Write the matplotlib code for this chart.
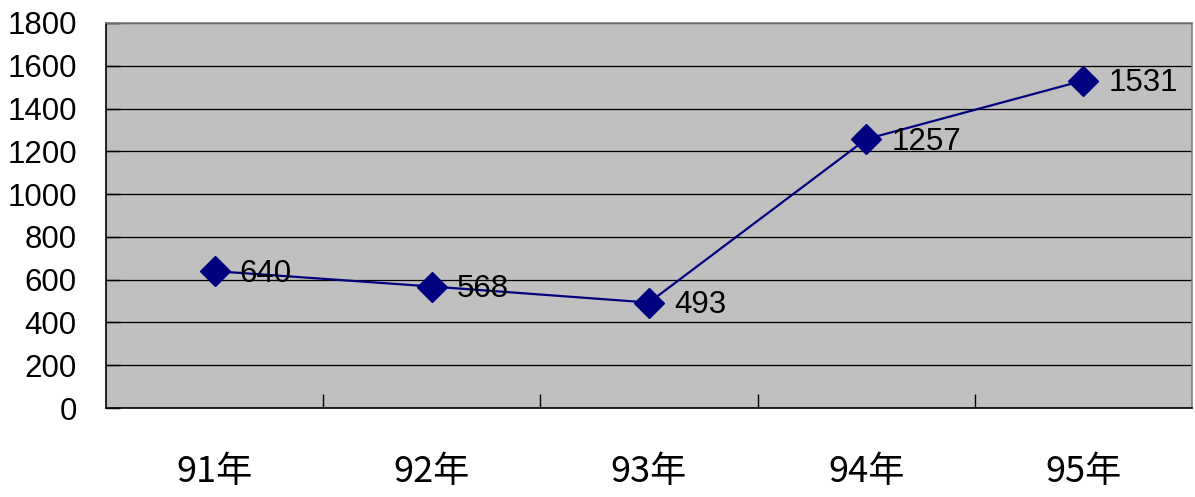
import matplotlib
matplotlib.use("Agg")
import matplotlib.pyplot as plt
from matplotlib.ticker import FixedLocator

categories = ["91年", "92年", "93年", "94年", "95年"]
values = [640, 568, 493, 1257, 1531]
y_ticks = [0, 200, 400, 600, 800, 1000, 1200, 1400, 1600, 1800]

NUM_FONT = "Liberation Sans"

W, H = 1195, 497
fig = plt.figure(figsize=(W / 100, H / 100), dpi=100)
ax = fig.add_axes([106 / W, 1 - 408 / H, (1192 - 106) / W, (408 - 23) / H])
ax.set_facecolor("#C0C0C0")

x = list(range(len(categories)))
ax.plot(x, values, color="#000080", lw=1.6, marker="D", markersize=15,
        markerfacecolor="#000080", markeredgecolor="#000080", zorder=3)
for xi, v in zip(x, values):
    ax.annotate(str(v), (xi, v), xytext=(18, -2), textcoords="offset points",
                ha="left", va="center", fontsize=22.5, family=NUM_FONT,
                color="black", zorder=4)

ax.set_xlim(-0.5, len(categories) - 0.5)
ax.set_ylim(0, 1800)
ax.yaxis.set_major_locator(FixedLocator(y_ticks))
ax.set_yticklabels([str(t) for t in y_ticks], family=NUM_FONT, fontsize=22.5)
ax.grid(axis="y", color="black", lw=0.9, zorder=1)
ax.set_axisbelow(True)

ax.xaxis.set_major_locator(FixedLocator(x))
ax.set_xticklabels(categories, family=["Noto Sans CJK SC", "DejaVu Sans"], fontsize=26)
ax.xaxis.set_minor_locator(FixedLocator([i + 0.5 for i in range(len(categories) - 1)]))
ax.tick_params(axis="x", which="major", length=0, pad=33)
ax.tick_params(axis="x", which="minor", direction="in", length=10, width=1, color="black")
ax.tick_params(axis="y", which="major", direction="in", length=10, width=1, pad=21, color="black")

for s in ["left", "bottom"]:
    ax.spines[s].set_color("black")
    ax.spines[s].set_linewidth(1.2)
for s in ["top", "right"]:
    ax.spines[s].set_color("#808080")
    ax.spines[s].set_linewidth(1.2)

fig.savefig("out.png", dpi=100, facecolor="white")
